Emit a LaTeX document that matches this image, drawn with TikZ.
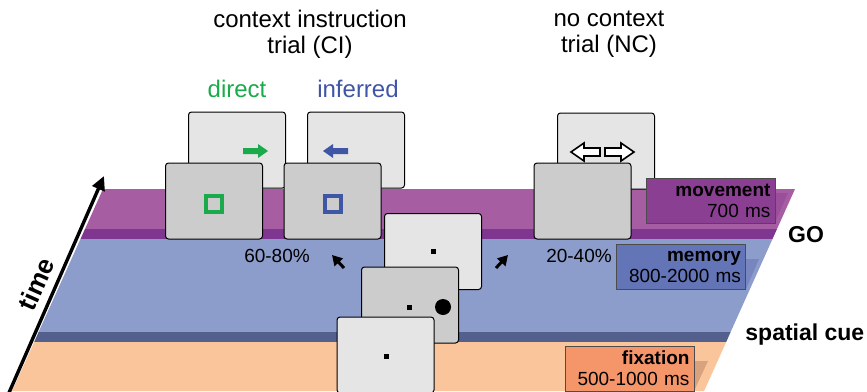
\documentclass[tikz,border=0pt]{standalone}
\usepackage{fontspec}
\setmainfont{Liberation Sans}
\usetikzlibrary{arrows.meta}

\definecolor{movlight}{HTML}{A75DA2}
\definecolor{movdark}{HTML}{7F3691}
\definecolor{memlight}{HTML}{8C9CCB}
\definecolor{memdark}{HTML}{535F8D}
\definecolor{fixlight}{HTML}{FBC59B}
\definecolor{movbox}{HTML}{8B3F92}
\definecolor{membox}{HTML}{6374B7}
\definecolor{fixbox}{HTML}{F5956A}
\definecolor{movshade}{HTML}{9A4E9C}
\definecolor{memshade}{HTML}{7886BF}
\definecolor{fixshade}{HTML}{D9A27F}
\definecolor{scrlight}{HTML}{E4E5E4}
\definecolor{scrdark}{HTML}{CBCCCB}
\definecolor{dirgreen}{HTML}{1BAA4B}
\definecolor{infblue}{HTML}{3F55A6}

\begin{document}
\begin{tikzpicture}[x=0.5pt, y=-0.5pt,
    screen/.style={draw, rounded corners=1.5pt, line width=0.5pt, minimum width=48.5pt, minimum height=38pt, inner sep=0pt},
    epochbox/.style={draw=black!70, line width=0.5pt, minimum width=64.5pt, minimum height=22.5pt, text width=60pt, align=right, inner sep=2pt, font=\fontsize{9.5}{10.5}\selectfont},
    fixdot/.style={fill=black, minimum size=2.5pt, inner sep=0pt},
    cuesquare/.style={draw, line width=2pt, minimum size=8pt, inner sep=0pt},
    fillarrow/.pic={\fill (0,-3) -- (15,-3) -- (15,-7) -- (25,0) -- (15,7) -- (15,3) -- (0,3) -- cycle;},
    openarrow/.pic={\draw[fill=white, line width=0.8pt] (0,-4) -- (16,-4) -- (16,-9) -- (29,0) -- (16,9) -- (16,4) -- (0,4) -- cycle;}]
    \useasboundingbox (0,0) rectangle (867,391);

    % layers
    \fill[movlight] (103,189) -- (795,189) -- (777,229) -- (85,229) -- cycle;
    \fill[movdark] (85,229) -- (777,229) -- (772.5,239) -- (80.5,239) -- cycle;
    \fill[memlight] (80.5,239) -- (772.5,239) -- (730.6,332) -- (38.6,332) -- cycle;
    \fill[memdark] (38.6,332) -- (730.6,332) -- (726.2,342) -- (34.2,342) -- cycle;
    \fill[fixlight] (34.2,342) -- (726.2,342) -- (704.1,391) -- (12.1,391) -- cycle;
    \fill[movshade] (775,193) -- (788,193) -- (775,222) -- cycle;
    \fill[memshade] (746,259) -- (759,259) -- (746,289) -- cycle;
    \fill[fixshade] (694,361) -- (708,361) -- (694,391) -- cycle;

    % time axis
    \draw[line width=1.7pt, -{Triangle[length=7pt, width=6.5pt]}] (8,395) -- (104,176);
    \node[rotate=66, font=\fontsize{13}{14}\selectfont\bfseries] (timeLbl) at (36,284) {time};

    % headers
    \node[align=center, font=\fontsize{12}{13}\selectfont] (ciTitle) at (310,34) {context instruction\\trial (CI)};
    \node[align=center, font=\fontsize{12}{13}\selectfont] (ncTitle) at (609,34) {no context\\trial (NC)};
    \node[dirgreen, font=\fontsize{12}{13}\selectfont] (dirLbl) at (237,89) {direct};
    \node[infblue, font=\fontsize{12}{13}\selectfont] (infLbl) at (358,89) {inferred};

    % CI screens
    \node[screen, fill=scrlight] (dirBack) at (237,150) {};
    \node[screen, fill=scrlight] (infBack) at (356,150) {};
    \pic[dirgreen] at (243,151) {fillarrow};
    \pic[infblue, rotate=180] at (348,151) {fillarrow};
    \node[screen, fill=scrdark] (dirFront) at (214,201) {};
    \node[screen, fill=scrdark] (infFront) at (332.5,201) {};
    \node[cuesquare, draw=dirgreen] (dirCue) at (214,204) {};
    \node[cuesquare, draw=infblue] (infCue) at (332.5,204) {};

    % NC screens
    \node[screen, fill=scrlight] (ncBack) at (606,151) {};
    \pic at (605,152) {openarrow};
    \pic[rotate=180] at (600,152) {openarrow};
    \node[screen, fill=scrdark] (ncFront) at (582.5,201) {};

    % epochs
    \node[epochbox, fill=movbox] (movBox) at (710.5,200.5) {\textbf{movement}\\700 ms};
    \node[epochbox, fill=membox] (memBox) at (681,266.5) {\textbf{memory}\\800-2000 ms};
    \node[epochbox, fill=fixbox] (fixBox) at (629.5,368.5) {\textbf{fixation}\\500-1000 ms};
    \node[font=\fontsize{11.5}{12}\selectfont\bfseries] (goLbl) at (806,235) {GO};
    \node[anchor=west, inner sep=0pt, font=\fontsize{11.5}{12}\selectfont\bfseries] (cueLbl) at (745,335) {spatial cue};

    % shared screens
    \node[screen, fill=scrlight] (memScr) at (433,251.5) {};
    \node[fixdot] (memDot) at (memScr) {};
    \node[screen, fill=scrdark] (cueScr) at (410,305) {};
    \node[fixdot] (cueDot) at (409,307) {};
    \node[circle, fill=black, minimum size=8pt, inner sep=0pt] (cueTarget) at (443,307) {};
    \node[screen, fill=scrlight] (fixScr) at (385.5,355) {};
    \node[fixdot] (fixDot) at (386,356) {};

    % branches
    \node[font=\fontsize{9.5}{10}\selectfont] (ciPct) at (277,256) {60-80\%};
    \node[font=\fontsize{9.5}{10}\selectfont] (ncPct) at (579,256) {20-40\%};
    \draw[line width=1.5pt, -{Triangle[length=5pt, width=5.5pt]}] (344,268) -- (332,255);
    \draw[line width=1.5pt, -{Triangle[length=5pt, width=5.5pt]}] (496,268) -- (508,255);
\end{tikzpicture}
\end{document}
